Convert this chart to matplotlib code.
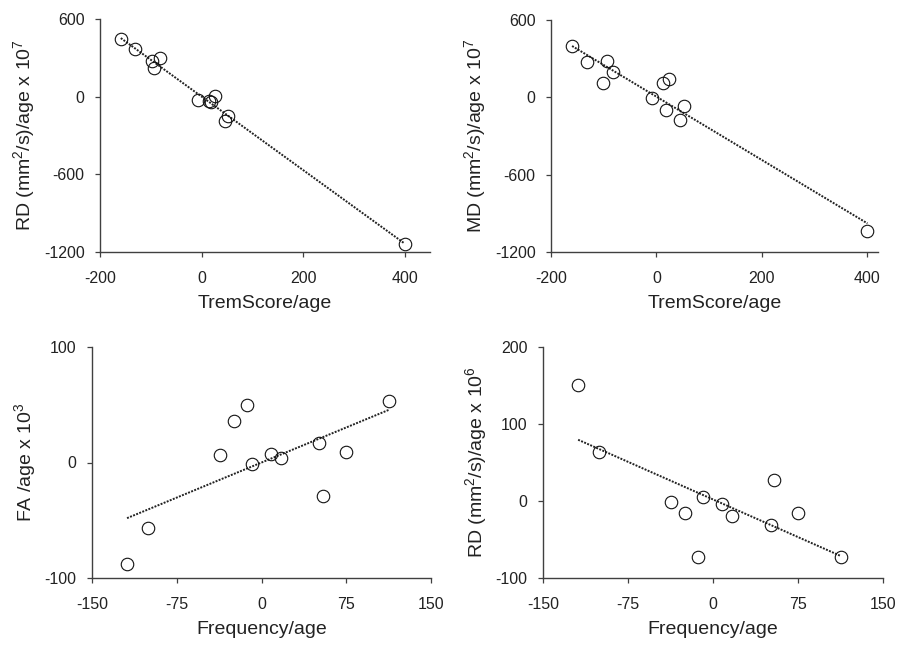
import matplotlib
matplotlib.use('Agg')
import matplotlib.pyplot as plt
import numpy as np

plt.rcParams['font.family'] = ['Liberation Sans', 'DejaVu Sans']
plt.rcParams['mathtext.default'] = 'regular'
plt.rcParams['axes.unicode_minus'] = False

# top row: TremScore/age
trem_rd_x = [-159, -131, -98, -82, -93, -7, 15, 18, 27, 53, 47, 400]
trem_rd_y = [443, 369, 279, 297, 220, -25, -32, -43, 6, -148, -187, -1138]

trem_md_x = [-160, -132, -93, -83, -102, -8, 13, 23, 18, 52, 45, 400]
trem_md_y = [398, 276, 284, 198, 108, -9, 108, 139, -99, -68, -172, -1037]

# bottom row: Frequency/age (same subjects on x)
freq_x = [-119, -100.5, -37, -24.5, -13, -8.5, 8, 17, 51, 54, 75, 113]
freq_fa_y = [-88, -57, 6.5, 36, 49.6, -1.6, 7, 3.6, 16.5, -29, 9.4, 53]
freq_rd_y = [151, 64, -0.7, -16, -73, 5, -3.7, -19, -31.8, 27.4, -16, -73]

panels = [
    dict(x=trem_rd_x, y=trem_rd_y, rect=[100, 19, 430, 252], xlim=(-200, 450), ylim=(-1200, 600),
         xticks=[-200, 0, 200, 400], yticks=[-1200, -600, 0, 600],
         xlabel='TremScore/age', ylabel='RD (mm$^2$/s)/age x 10$^7$'),
    dict(x=trem_md_x, y=trem_md_y, rect=[551, 20, 878, 252], xlim=(-200, 420), ylim=(-1200, 600),
         xticks=[-200, 0, 200, 400], yticks=[-1200, -600, 0, 600],
         xlabel='TremScore/age', ylabel='MD (mm$^2$/s)/age x 10$^7$'),
    dict(x=freq_x, y=freq_fa_y, rect=[92, 347, 431, 578], xlim=(-150, 150), ylim=(-100, 100),
         xticks=[-150, -75, 0, 75, 150], yticks=[-100, 0, 100],
         xlabel='Frequency/age', ylabel='FA /age x 10$^3$'),
    dict(x=freq_x, y=freq_rd_y, rect=[543, 347, 883, 578], xlim=(-150, 150), ylim=(-100, 200),
         xticks=[-150, -75, 0, 75, 150], yticks=[-100, 0, 100, 200],
         xlabel='Frequency/age', ylabel='RD (mm$^2$/s)/age x 10$^6$'),
]

W, H = 897, 646
fig = plt.figure(figsize=(W / 100, H / 100), dpi=100)

for p in panels:
    l, t, r, b = p['rect']
    ax = fig.add_axes([l / W, 1 - b / H, (r - l) / W, (b - t) / H])
    x = np.array(p['x'])
    y = np.array(p['y'])

    # linear trendline over the data range
    k, c = np.polyfit(x, y, 1)
    xs = np.array([x.min(), x.max()])
    ax.plot(xs, k * xs + c, color='#222222', lw=1.4, ls=(0, (1, 0.7)), zorder=2)
    ax.plot(x, y, 'o', ms=9, mfc='none', mec='#111111', mew=0.8, zorder=3, clip_on=False)

    ax.set_xlim(p['xlim'])
    ax.set_ylim(p['ylim'])
    ax.set_xticks(p['xticks'])
    ax.set_yticks(p['yticks'])
    for s in ['top', 'right']:
        ax.spines[s].set_visible(False)
    for s in ['left', 'bottom']:
        ax.spines[s].set_color('#404040')
        ax.spines[s].set_linewidth(1.0)
    ax.tick_params(direction='out', length=3.5, width=0.9, color='#404040',
                   labelsize=11.5, labelcolor='#222222')
    ax.tick_params(axis='x', pad=10.5)
    ax.tick_params(axis='y', pad=7.5)
    ax.set_xlabel(p['xlabel'], fontsize=14, color='#222222', labelpad=6)
    ax.set_ylabel(p['ylabel'], fontsize=14, color='#222222', labelpad=5)

fig.savefig('out.png', dpi=100)
